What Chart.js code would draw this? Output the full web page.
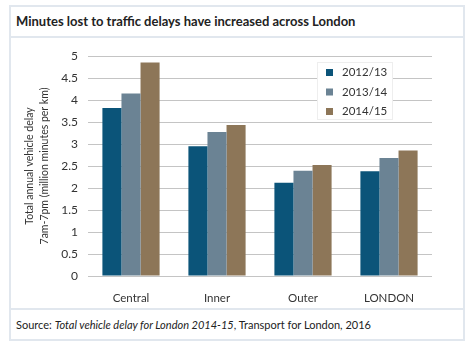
<!DOCTYPE html>
<html>
<head>
<meta charset="utf-8">
<script src="https://cdn.jsdelivr.net/npm/chart.js@4.4.0/dist/chart.umd.min.js"></script>
<style>
  body { margin: 0; background: #fff; width: 474px; height: 348px; overflow: hidden; }
  #frame { position: absolute; left: 9px; top: 5px; width: 452px; height: 332px; border: 2px solid #e1e7ee; }
  #title { position: absolute; left: 16px; top: 13px; font: bold 13px Lato, sans-serif; color: #222; }
  #sep1 { position: absolute; left: 9px; top: 36px; width: 456px; height: 2px; background: #e1e7ee; }
  #sep2 { position: absolute; left: 9px; top: 308px; width: 456px; height: 2px; background: #e1e7ee; }
  #source { position: absolute; left: 16px; top: 318px; font: 11px Lato, sans-serif; color: #222; }
  canvas { position: absolute; left: 0; top: 0; }
</style>
</head>
<body>
<div id="frame"></div>
<div id="sep1"></div>
<div id="sep2"></div>
<div id="title">Minutes lost to traffic delays have increased across London</div>
<div id="source">Source: <i>Total vehicle delay for London 2014-15</i>, Transport for London, 2016</div>
<canvas id="chart" width="474" height="348"></canvas>
<script>
var categories = ['Central', 'Inner', 'Outer', 'LONDON'];
var years = ['2012/13', '2013/14', '2014/15'];
var delay1213 = [3.82, 2.95, 2.12, 2.38];
var delay1314 = [4.15, 3.27, 2.39, 2.68];
var delay1415 = [4.85, 3.43, 2.52, 2.85];
var colors = ['#0b5479', '#6b8394', '#8d7658'];

// legend box drawn inside the plot, top right
var boxLegend = {
    id: 'boxLegend',
    afterDraw: function (chart) {
        var ctx = chart.ctx;
        var area = chart.chartArea;
        var x = area.right - 115, y = area.top + 6;
        ctx.save();
        ctx.fillStyle = '#fff';
        ctx.fillRect(x, y, 75, 57);
        ctx.strokeStyle = '#eeeeee';
        ctx.lineWidth = 1;
        ctx.strokeRect(x + 0.5, y + 0.5, 75, 57);
        ctx.font = '11.5px Lato, sans-serif';
        ctx.textBaseline = 'middle';
        chart.data.datasets.forEach(function (ds, i) {
            var cy = y + 10 + i * 19.5;
            ctx.fillStyle = ds.backgroundColor;
            ctx.fillRect(x + 9, cy - 3, 7, 7);
            ctx.fillStyle = '#333';
            ctx.fillText(ds.label, x + 25, cy + 0.5);
        });
        ctx.restore();
    }
};

var ctx = document.getElementById('chart').getContext('2d');
var chart = new Chart(ctx, {
    type: 'bar',
    data: {
        labels: categories,
        datasets: [
            { label: years[0], data: delay1213, backgroundColor: colors[0] },
            { label: years[1], data: delay1314, backgroundColor: colors[1] },
            { label: years[2], data: delay1415, backgroundColor: colors[2] }
        ]
    },
    options: {
        responsive: false,
        animation: false,
        layout: { padding: { top: 56, right: 42, left: 0, bottom: 0 } },
        datasets: { bar: { categoryPercentage: 0.665, barPercentage: 1 } },
        plugins: { legend: { display: false }, tooltip: { enabled: false } },
        scales: {
            x: {
                grid: { display: false },
                border: { display: false },
                ticks: { color: '#333', font: { family: 'Lato', size: 11.5 }, padding: 7 },
                afterFit: function (scale) { scale.height = 72; }
            },
            y: {
                min: 0,
                max: 5,
                ticks: {
                    stepSize: 0.5, color: '#333', font: { family: 'Lato', size: 12 }, padding: 10,
                    callback: function (v) { return String(Math.round(v * 10) / 10); }
                },
                grid: { color: '#c4c4c4', drawTicks: false },
                border: { display: false },
                title: {
                    display: true,
                    text: ['Total annual vehicle delay', '7am-7pm (million minutes per km)'],
                    color: '#333',
                    font: { family: 'Lato', size: 10.5, lineHeight: 1.45 },
                    padding: { top: 22, bottom: 0 }
                },
                afterFit: function (scale) { scale.width = 88; }
            }
        }
    },
    plugins: [boxLegend]
});
</script>
</body>
</html>
